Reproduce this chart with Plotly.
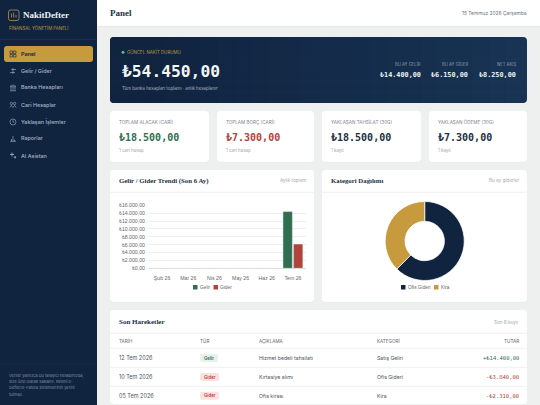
import plotly.graph_objects as go

# veriler
months = ["Şub 26", "Mar 26", "Nis 26", "May 26", "Haz 26", "Tem 26"]
income = [0, 0, 0, 0, 0, 14400]
expense = [0, 0, 0, 0, 0, 6150]
y_ticks = [0, 2000, 4000, 6000, 8000, 10000, 12000, 14000, 16000]
y_labels = ["₺0,00", "₺2.000,00", "₺4.000,00", "₺6.000,00", "₺8.000,00",
            "₺10.000,00", "₺12.000,00", "₺14.000,00", "₺16.000,00"]
categories = ["Ofis Gideri", "Kira"]
category_values = [3840, 2310]

nav_items = ["Panel", "Gelir / Gider", "Banka Hesapları", "Cari Hesaplar",
             "Yaklaşan İşlemler", "Raporlar", "AI Asistan"]
kpi_titles = ["TOPLAM ALACAK (CARİ)", "TOPLAM BORÇ (CARİ)", "YAKLAŞAN TAHSİLAT (30G)", "YAKLAŞAN ÖDEME (30G)"]
kpi_values = ["₺18.500,00", "₺7.300,00", "₺18.500,00", "₺7.300,00"]
kpi_notes = ["1 cari hesap", "1 cari hesap", "1 kayıt", "1 kayıt"]
hero_titles = ["BU AY GELİR", "BU AY GİDER", "NET AKIŞ"]
hero_values = ["₺14.400,00", "₺6.150,00", "₺8.250,00"]

table_head = ["TARİH", "TÜR", "AÇIKLAMA", "KATEGORİ", "TUTAR"]
table_dates = ["12 Tem 2026", "10 Tem 2026", "05 Tem 2026"]
table_types = ["Gelir", "Gider", "Gider"]
table_desc = ["Hizmet bedeli tahsilatı", "Kırtasiye alımı", "Ofis kirası"]
table_cats = ["Satış Geliri", "Ofis Gideri", "Kira"]
table_amounts = ["+₺14.400,00", "-₺3.840,00", "-₺2.310,00"]

W, H = 540, 405
NAVY = "#10233f"
GOLD = "#c79a3e"
GREEN = "#2f6f4f"
RED = "#b0443a"
SANS = "Inter, Noto Sans, sans-serif"
SERIF = "Liberation Serif, serif"
MONO = "DejaVu Sans Mono, monospace"
ARIAL = "Liberation Sans, sans-serif"

shapes = []
notes = []


def px(x):
    return x / W


def py(y):
    return 1 - y / H


def rect(x0, y0, x1, y1, fill, r=0, line=None, lw=1):
    if r:
        p = (f"M{px(x0 + r)},{py(y0)} L{px(x1 - r)},{py(y0)} Q{px(x1)},{py(y0)} {px(x1)},{py(y0 + r)} "
             f"L{px(x1)},{py(y1 - r)} Q{px(x1)},{py(y1)} {px(x1 - r)},{py(y1)} "
             f"L{px(x0 + r)},{py(y1)} Q{px(x0)},{py(y1)} {px(x0)},{py(y1 - r)} "
             f"L{px(x0)},{py(y0 + r)} Q{px(x0)},{py(y0)} {px(x0 + r)},{py(y0)} Z")
        s = dict(type="path", path=p)
    else:
        s = dict(type="rect", x0=px(x0), x1=px(x1), y0=py(y0), y1=py(y1))
    s.update(xref="paper", yref="paper", fillcolor=fill, layer="below",
             line=dict(color=line or "rgba(0,0,0,0)", width=lw if line else 0))
    shapes.append(s)


def hline(x0, x1, y, color, lw=0.7):
    shapes.append(dict(type="line", xref="paper", yref="paper", x0=px(x0), x1=px(x1), y0=py(y), y1=py(y),
                       line=dict(color=color, width=lw), layer="below"))


def seg(x0, y0, x1, y1, color, lw=0.6):
    shapes.append(dict(type="line", xref="paper", yref="paper", x0=px(x0), x1=px(x1), y0=py(y0), y1=py(y1),
                       line=dict(color=color, width=lw), layer="above"))


def dot(cx, cy, r, fill, line=None):
    shapes.append(dict(type="circle", xref="paper", yref="paper", layer="below",
                       x0=px(cx - r), x1=px(cx + r), y0=py(cy + r), y1=py(cy - r), fillcolor=fill,
                       line=dict(color=line or "rgba(0,0,0,0)", width=0.6 if line else 0)))


def text(x, y, s, size, color, font=SANS, anchor="left", weight=400):
    notes.append(dict(x=px(x), y=py(y), xref="paper", yref="paper", text=s, showarrow=False,
                      xanchor=anchor, yanchor="middle", borderpad=0, borderwidth=0,
                      font=dict(size=size, color=color, family=font, weight=weight)))


def card(x0, y0, x1, y1):
    rect(x0, y0 + 0.8, x1, y1 + 0.8, "#e8eaea", 4)
    rect(x0, y0, x1, y1, "#ffffff", 4)


def icon(i, cx, cy, c):
    none = "rgba(0,0,0,0)"
    if i == 0:  # panel
        for dx, dy in [(-3, -3), (0.5, -3), (-3, 0.5), (0.5, 0.5)]:
            rect(cx + dx, cy + dy, cx + dx + 2.5, cy + dy + 2.5, none, line=c, lw=0.6)
    elif i == 1:  # gelir gider
        seg(cx - 2, cy - 1.5, cx + 3, cy - 1.5, c)
        seg(cx - 3, cy + 1.5, cx + 2, cy + 1.5, c)
        seg(cx, cy - 3, cx, cy, c)
        seg(cx, cy, cx, cy + 3, c)
    elif i == 2:  # banka
        seg(cx - 3, cy - 1.5, cx, cy - 3, c)
        seg(cx, cy - 3, cx + 3, cy - 1.5, c)
        seg(cx - 3, cy - 1.2, cx + 3, cy - 1.2, c)
        seg(cx - 3, cy + 2.8, cx + 3, cy + 2.8, c)
        for dx in (-2, 0, 2):
            seg(cx + dx, cy - 0.8, cx + dx, cy + 2.4, c)
    elif i == 3:  # cari
        dot(cx - 1.6, cy - 1.5, 1.2, none, c)
        dot(cx + 1.6, cy - 1.5, 1.2, none, c)
        seg(cx - 3.2, cy + 2.5, cx - 1.6, cy + 0.5, c)
        seg(cx - 1.6, cy + 0.5, cx, cy + 2.5, c)
        seg(cx, cy + 2.5, cx + 1.6, cy + 0.5, c)
        seg(cx + 1.6, cy + 0.5, cx + 3.2, cy + 2.5, c)
    elif i == 4:  # yaklaşan
        dot(cx, cy, 3, none, c)
        seg(cx, cy - 1.8, cx, cy, c)
        seg(cx, cy, cx + 1.3, cy + 0.8, c)
    elif i == 5:  # raporlar
        seg(cx - 3, cy + 2.8, cx + 3, cy + 2.8, c)
        seg(cx - 1.5, cy + 2.8, cx - 1.5, cy + 0.5, c)
        seg(cx, cy + 2.8, cx, cy - 2.5, c)
        seg(cx + 1.5, cy + 2.8, cx + 1.5, cy + 1, c)
    else:  # ai
        seg(cx - 1, cy - 3, cx - 1, cy + 1, c, 0.8)
        seg(cx - 3, cy - 1, cx + 1, cy - 1, c, 0.8)
        seg(cx + 2, cy + 0.5, cx + 2, cy + 3, c, 0.8)
        seg(cx + 0.8, cy + 1.8, cx + 3.2, cy + 1.8, c, 0.8)


# sidebar + header
rect(0, 0, 97, H, NAVY)
rect(97, 0, W, 26, "#ffffff")
hline(97, W, 26.3, "#e4e6e6")
hline(0, 97, 39.5, "#1d3350")
hline(0, 97, 364, "#1d3350")

rect(8.5, 10, 19, 20.5, "rgba(0,0,0,0)", 2, line="#c9a65c", lw=0.7)
seg(11.5, 17.5, 11.5, 13.5, "#c9a65c", 0.7)
seg(13.7, 17.5, 13.7, 12.5, "#c9a65c", 0.7)
seg(16, 17.5, 16, 15, "#c9a65c", 0.7)
text(23.3, 15.3, "NakitDefter", 9, "#eef1f4", SERIF, weight=700)
text(8.5, 28.3, "FİNANSAL YÖNETİM PANELİ", 4.4, "#b9963f")

rect(4, 46, 93, 62, GOLD, 3)
nav_y = [54, 71, 88, 105, 122, 138.5, 155.5]
for i, (name, y) in enumerate(zip(nav_items, nav_y)):
    color = NAVY if i == 0 else "#aab4c2"
    text(21, y, name, 5.4, color, weight=600 if i == 0 else 500)
    icon(i, 13, y, color)

foot = ["Veriler yalnızca bu tarayıcı hesabınızda,", "size özel olarak saklanır. Resmî e-",
        "Defter/e-Fatura sistemlerinin yerini", "tutmaz."]
for i, line in enumerate(foot):
    text(8.5, 375 + i * 6.4, line, 4, "#7f8da0")

text(110, 13, "Panel", 9, "#22303f", SERIF, weight=700)
text(527, 13.3, "15 Temmuz 2026 Çarşamba", 4.9, "#6b7480", anchor="right")

# hero
rect(110, 37, 527, 103, "#183353", 4)
rect(110, 37, 300, 103, NAVY, 4)
steps = 24
for i in range(steps):
    t = i / (steps - 1)
    c = "#%02x%02x%02x" % (int(16 + 8 * t), int(35 + 16 * t), int(63 + 20 * t))
    x0 = 114 + i * (523 - 114) / steps
    rect(x0, 37, x0 + (523 - 114) / steps + 0.3, 103, c)
for y in [48, 59, 70, 81, 92]:
    hline(110, 527, y, "rgba(255,255,255,0.04)", 0.5)
dot(123, 52.3, 1.5, "#4fbf8f")
text(127, 52.3, "GÜNCEL NAKİT DURUMU", 4.4, "#b9963f")
text(122, 71.3, "₺54.450,00", 16.3, "#f4f6f8", MONO, weight=700)
text(122, 88.7, "Tüm banka hesapları toplamı · anlık hesaplanır", 4.4, "#aab4c2")
for right, t, v in zip([420.7, 468, 515.5], hero_titles, hero_values):
    text(right, 64.5, t, 4.2, "#8f9cad", anchor="right")
    text(right, 74.8, v, 6.8, "#eef1f4", MONO, weight=700, anchor="right")

# kpi kartları
card_x = [(110, 209), (217, 314), (322, 421), (429, 527)]
kpi_colors = [GREEN, RED, "#22303f", "#22303f"]
for (x0, x1), t, v, n, c in zip(card_x, kpi_titles, kpi_values, kpi_notes, kpi_colors):
    card(x0, 111, x1, 162)
    text(x0 + 8.7, 122, t, 4.6, "#7b8490")
    text(x0 + 8.7, 137, v, 10, c, MONO, weight=700)
    text(x0 + 8.7, 150.7, n, 4.4, "#9aa2ac")

# grafik kartları
for x0, x1, title, sub in [(110, 314, "Gelir / Gider Trendi (Son 6 Ay)", "Aylık toplam"),
                           (322, 527, "Kategori Dağılımı", "Bu ay giderler")]:
    card(x0, 170, x1, 302)
    hline(x0, x1, 192.3, "#e8eaea")
    text(x0 + 8.7, 181, title, 6.8, "#22303f", SERIF, weight=700)
    text(x1 - 8.5, 181, sub, 4.6, "#a3aab3", anchor="right")

# elle çizilen açıklamalar
rect(193, 285, 197.5, 289.5, GREEN)
text(199.5, 287.2, "Gelir", 4.8, "#666666", ARIAL)
rect(213.5, 285, 218, 289.5, RED)
text(220, 287.2, "Gider", 4.8, "#666666", ARIAL)
rect(401, 285, 405.5, 289.5, NAVY)
text(407.5, 287.2, categories[0], 4.8, "#666666", ARIAL)
rect(434, 285, 438.5, 289.5, GOLD)
text(440.5, 287.2, categories[1], 4.8, "#666666", ARIAL)

# tablo
card(110, 310, 527, 404.3)
text(118.5, 321.5, "Son Hareketler", 7, "#22303f", SERIF, weight=700)
text(518.5, 322, "Son 8 kayıt", 4.6, "#a3aab3", anchor="right")
col_x = [118.5, 200, 259, 377, 518.5]
for y in [333.3, 348.3, 367.3, 386.3]:
    hline(110, 527, y, "#e8eaea")
for j, (x, h) in enumerate(zip(col_x, table_head)):
    text(x, 341, h, 4.6, "#5f6873", anchor="right" if j == 4 else "left")
for i, y in enumerate([358, 377, 395.7]):
    gelir = table_types[i] == "Gelir"
    text(col_x[0], y, table_dates[i], 5.5, "#4a5560")
    rect(200, y - 4, 218 if gelir else 219, y + 4, "#e6f2ea" if gelir else "#f9e3e1", 2)
    text(209 if gelir else 209.5, y, table_types[i], 4.4, GREEN if gelir else RED, anchor="center", weight=600)
    text(col_x[2], y, table_desc[i], 5.2, "#4a5560")
    text(col_x[3], y, table_cats[i], 5.2, "#4a5560")
    text(col_x[4], y, table_amounts[i], 5.5, GREEN if gelir else RED, MONO, anchor="right")

fig = go.Figure()
fig.add_trace(go.Bar(x=months, y=income, name="Gelir", marker=dict(color=GREEN)))
fig.add_trace(go.Bar(x=months, y=expense, name="Gider", marker=dict(color=RED)))
fig.add_trace(go.Pie(labels=categories, values=category_values, hole=0.5, sort=False, direction="clockwise",
                     rotation=0, textinfo="none", marker=dict(colors=[NAVY, GOLD], line=dict(color="#ffffff", width=0.7)),
                     domain=dict(x=[px(385.2), px(464.2)], y=[py(280.5), py(201.5)])))

fig.update_layout(
    width=W, height=H, margin=dict(l=0, r=0, t=0, b=0, pad=0, autoexpand=False), showlegend=False,
    paper_bgcolor="#eef0f0", plot_bgcolor="rgba(0,0,0,0)",
    barmode="group", bargap=0.2, bargroupgap=0.1, barcornerradius=1,
    shapes=shapes, annotations=notes,
    xaxis=dict(domain=[px(149), px(306)], showgrid=False, showline=False, fixedrange=True, automargin=False,
               ticks="outside", ticklen=4.5, tickcolor="rgba(0,0,0,0)",
               tickfont=dict(size=5.2, color="#666666", family=ARIAL)),
    yaxis=dict(domain=[py(268.3), py(205.3)], range=[0, 16000], tickvals=y_ticks, ticktext=y_labels,
               automargin=False, gridcolor="#eeeeee", gridwidth=0.7, zeroline=True, zerolinecolor="#dddddd",
               zerolinewidth=0.7, ticks="outside", ticklen=2, tickcolor="#eeeeee", tickwidth=0.7, fixedrange=True,
               tickfont=dict(size=5.2, color="#666666", family=ARIAL)),
)

fig.write_html("out.html", config=dict(displayModeBar=False),
               post_script="document.body.style.margin='0';document.body.style.overflow='hidden';")
